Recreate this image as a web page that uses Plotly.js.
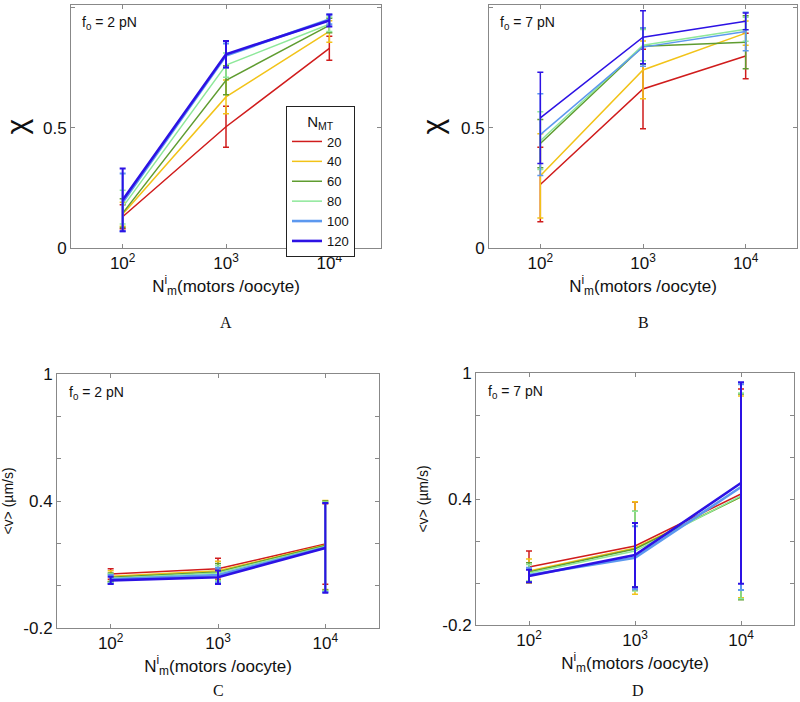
<!DOCTYPE html>
<html>
<head>
<meta charset="utf-8">
<script src="https://cdn.plot.ly/plotly-3.0.1.min.js"></script>
<style>
  html, body { margin: 0; padding: 0; background: #fff; }
  #plot { width: 800px; height: 702px; }
</style>
</head>
<body>
<div id="plot"></div>
<script>
// number of microtubules (one line per value)
const nmt = [20, 40, 60, 80, 100, 120];
const lineColors = ['#d01c1c', '#f2c318', '#5f9c30', '#8ee89a', '#5c98ef', '#2c12e4'];

// initial motors per oocyte
const motors = [100, 1000, 10000];
const motorTicks = ['10<sup>2</sup>', '10<sup>3</sup>', '10<sup>4</sup>'];

// A: chi, f0 = 2 pN
const chiA = [
    [0.13, 0.504, 0.83],
    [0.14, 0.628, 0.90],
    [0.145, 0.697, 0.925],
    [0.17, 0.76, 0.93],
    [0.19, 0.80, 0.95],
    [0.20, 0.805, 0.946]
];
const errA = [
    [0.05, 0.085, 0.05],
    [0.05, 0.07, 0.045],
    [0.06, 0.06, 0.03],
    [0.07, 0.05, 0.03],
    [0.12, 0.05, 0.02],
    [0.13, 0.055, 0.025]
];

// B: chi, f0 = 7 pN
const chiB = [
    [0.264, 0.661, 0.798],
    [0.30, 0.74, 0.893],
    [0.434, 0.839, 0.855],
    [0.446, 0.843, 0.909],
    [0.471, 0.835, 0.90],
    [0.541, 0.876, 0.942]
];
const errB = [
    [0.155, 0.165, 0.095],
    [0.175, 0.12, 0.05],
    [0.10, 0.075, 0.11],
    [0.12, 0.065, 0.05],
    [0.17, 0.08, 0.08],
    [0.19, 0.11, 0.035]
];

// C: mean velocity, f0 = 2 pN
const velC = [
    [0.055, 0.08, 0.197],
    [0.045, 0.07, 0.192],
    [0.04, 0.065, 0.19],
    [0.035, 0.06, 0.185],
    [0.03, 0.05, 0.18],
    [0.025, 0.04, 0.178]
];
const errC = [
    [0.025, 0.05, 0.19],
    [0.025, 0.045, 0.21],
    [0.02, 0.04, 0.21],
    [0.02, 0.035, 0.21],
    [0.02, 0.035, 0.21],
    [0.017, 0.032, 0.212]
];

// D: mean velocity, f0 = 7 pN
const velD = [
    [0.076, 0.176, 0.424],
    [0.057, 0.167, 0.41],
    [0.052, 0.162, 0.41],
    [0.048, 0.152, 0.415],
    [0.038, 0.12, 0.457],
    [0.033, 0.133, 0.476]
];
const errD = [
    [0.076, 0.21, 0.5],
    [0.057, 0.22, 0.48],
    [0.045, 0.18, 0.49],
    [0.04, 0.19, 0.49],
    [0.035, 0.15, 0.49],
    [0.03, 0.153, 0.48]
];

const velTicks = [-0.2, 0, 0.2, 0.4, 0.6, 0.8, 1];
const velTickText = ['-0.2', '', '', '0.4', '', '', '1'];

const FONT = 'Liberation Sans, Arial, sans-serif';

// build the six line traces for one panel
function panelTraces(values, errors, axisIndex, showLegend, thick) {
    const suffix = axisIndex === 1 ? '' : String(axisIndex);
    return nmt.map((n, i) => ({
        x: motors,
        y: values[i],
        type: 'scatter',
        mode: 'lines',
        name: String(n),
        showlegend: showLegend,
        xaxis: 'x' + suffix,
        yaxis: 'y' + suffix,
        line: { color: lineColors[i], width: (thick && i >= 4) ? 2.6 : 1.5 },
        error_y: {
            type: 'data',
            array: errors[i],
            color: lineColors[i],
            thickness: (thick && i >= 4) ? 2 : 1.5,
            width: 3
        }
    }));
}

const traces = [
    ...panelTraces(chiA, errA, 1, true, true),
    ...panelTraces(chiB, errB, 2, false, false),
    ...panelTraces(velC, errC, 3, false, true),
    ...panelTraces(velD, errD, 4, false, true)
];

// shared axis styling (matlab-like box)
function xAxis(domain, anchor) {
    return {
        domain: domain,
        anchor: anchor,
        type: 'log',
        range: [1.5, 4.5],
        tickvals: motors,
        ticktext: motorTicks,
        ticks: 'inside',
        ticklen: 4,
        tickcolor: '#888',
        showline: true,
        linecolor: '#888',
        linewidth: 1,
        mirror: 'ticks',
        showgrid: false,
        zeroline: false,
        tickfont: { family: FONT, size: 17, color: '#111' },
        title: {
            text: 'N<sup>i</sup><sub>m</sub>(motors /oocyte)',
            font: { family: FONT, size: 17, color: '#111' },
            standoff: 4
        }
    };
}

function yAxis(domain, anchor, kind) {
    const ax = {
        domain: domain,
        anchor: anchor,
        ticks: 'inside',
        ticklen: 4,
        tickcolor: '#888',
        showline: true,
        linecolor: '#888',
        linewidth: 1,
        mirror: 'ticks',
        showgrid: false,
        zeroline: false,
        tickfont: { family: FONT, size: 17, color: '#111' }
    };
    if (kind === 'chi') {
        ax.range = [0, 1.01];
        ax.tickvals = [0, 0.5, 1];
        ax.ticktext = ['0', '0.5', '1'];
        ax.title = { text: 'χ', font: { family: FONT, size: 30, color: '#111' }, standoff: 8 };
    } else {
        ax.range = [-0.2, 1];
        ax.tickvals = velTicks;
        ax.ticktext = velTickText;
        ax.title = { text: '&lt;v&gt; (µm/s)', font: { family: FONT, size: 14, color: '#111' }, standoff: 10 };
    }
    return ax;
}

// panel positions in paper coordinates (figure is 800 x 702)
const W = 800, H = 702;
const px = (a, b) => [a / W, b / W];
const py = (top, bottom) => [1 - bottom / H, 1 - top / H];

const annotations = [];
function panelLabel(text, xref, yref) {
    annotations.push({
        text: text, xref: xref + ' domain', yref: yref + ' domain',
        x: 0.03, y: 0.97, xanchor: 'left', yanchor: 'top', showarrow: false,
        font: { family: FONT, size: 14, color: '#111' }
    });
}
panelLabel('f<sub>0</sub> = 2 pN', 'x', 'y');
panelLabel('f<sub>0</sub> = 7 pN', 'x2', 'y2');
panelLabel('f<sub>0</sub> = 2 pN', 'x3', 'y3');
panelLabel('f<sub>0</sub> = 7 pN', 'x4', 'y4');

const captions = [
    { t: 'A', x: 226, y: 322 },
    { t: 'B', x: 643, y: 322 },
    { t: 'C', x: 218, y: 690 },
    { t: 'D', x: 638, y: 690 }
];
captions.forEach(c => annotations.push({
    text: c.t, xref: 'paper', yref: 'paper',
    x: c.x / W, y: 1 - c.y / H, xanchor: 'center', yanchor: 'middle',
    showarrow: false,
    font: { family: 'Liberation Serif, Times New Roman, serif', size: 16, color: '#111' }
}));

const layout = {
    width: W,
    height: H,
    margin: { l: 0, r: 0, t: 0, b: 0 },
    paper_bgcolor: '#fff',
    plot_bgcolor: '#fff',
    font: { family: FONT, color: '#111' },
    xaxis: xAxis(px(71, 381), 'y'),
    yaxis: yAxis(py(5, 248), 'x', 'chi'),
    xaxis2: xAxis(px(489, 797), 'y2'),
    yaxis2: yAxis(py(5, 248), 'x2', 'chi'),
    xaxis3: xAxis(px(57, 379), 'y3'),
    yaxis3: yAxis(py(374, 628), 'x3', 'vel'),
    xaxis4: xAxis(px(476, 794), 'y4'),
    yaxis4: yAxis(py(373, 625), 'x4', 'vel'),
    showlegend: true,
    legend: {
        x: 355 / W, y: 1 - 106 / H,
        xanchor: 'right', yanchor: 'top',
        bgcolor: '#fff',
        bordercolor: '#222',
        borderwidth: 1,
        tracegroupgap: 0,
        itemwidth: 30,
        font: { family: FONT, size: 13, color: '#111' },
        title: { text: 'N<sub>MT</sub>', side: 'top center', font: { family: FONT, size: 15, color: '#111' } }
    },
    annotations: annotations
};

Plotly.newPlot('plot', traces, layout, { staticPlot: true });
</script>
</body>
</html>
